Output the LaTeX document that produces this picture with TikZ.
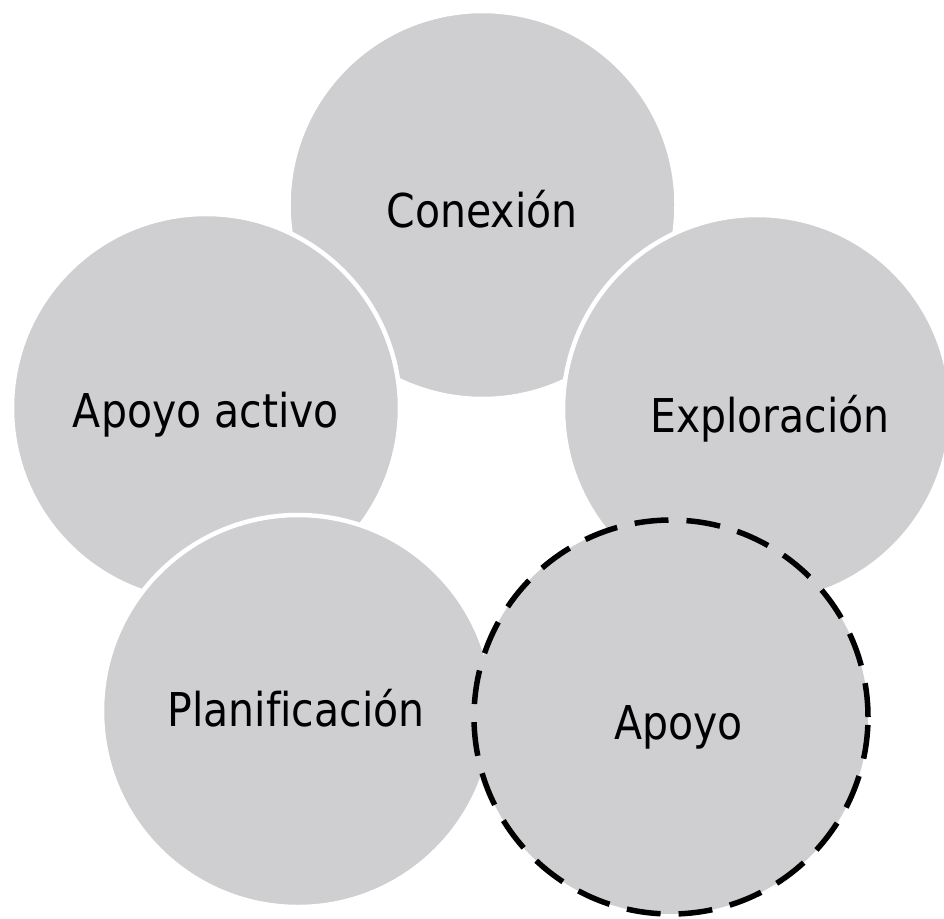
\documentclass[tikz,border=0pt]{standalone}
\usepackage{fontspec}
\setmainfont{DejaVu Sans}[FakeStretch=0.88, Ligatures={NoCommon}]
\definecolor{disc}{RGB}{207,206,208}
\tikzset{
  disc/.style={circle, fill=disc, draw=white, line width=4.5pt, inner sep=0pt, minimum size=#1},
  dashdisc/.style={circle, fill=disc, draw=black, line width=5.5pt, dash pattern=on 34pt off 18pt, inner sep=0pt, minimum size=#1},
  lbl/.style={anchor=base, inner sep=0pt, font=\fontsize{46.6}{50}\selectfont}
}
\begin{document}
\begin{tikzpicture}[x=1pt,y=-1pt]
\useasboundingbox (0,0) rectangle (944,918);
\clip (0,0) rectangle (944,918);
\fill[white] (0,0) rectangle (944,918);
\node[disc=388pt] (c1) at (482.5,205) {};
\node[disc=388pt] (c2) at (206,408) {};
\node[disc=388pt] (c3) at (757,409) {};
\node[disc=392pt] (c4) at (298,711) {};
\node[dashdisc=394pt] (c5) at (671,717) {};
\node[lbl] (t1) at (482,227) {Conexión};
\node[lbl] (t2) at (206,427) {Apoyo activo};
\node[lbl] (t3) at (770,432) {Exploración};
\node[lbl] (t4) at (296,726) {Planificación};
\node[lbl] (t5) at (678.5,739) {Apoyo};
\end{tikzpicture}
\end{document}
